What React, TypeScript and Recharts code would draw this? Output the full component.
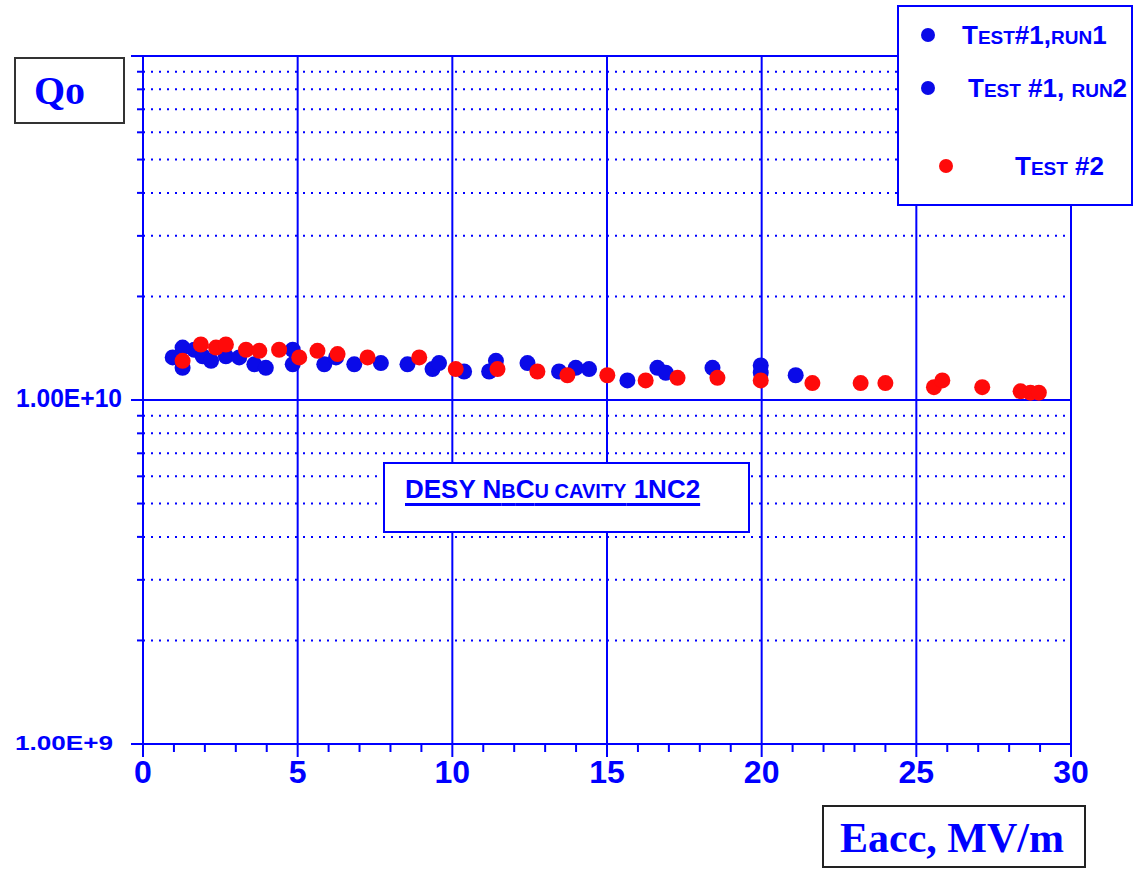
import React from "react";
import { ScatterChart, Scatter, XAxis, YAxis, ReferenceLine, Legend } from "recharts";

// Eacc (MV/m) and Qo values
const run1X = [0.96, 1.28, 1.28, 1.66, 1.93, 2.2, 2.68, 3.11, 3.6, 3.97, 4.84, 4.84, 5.86, 6.24, 6.83, 7.69, 8.55, 9.36, 9.57, 10.38];
const run1Q = [1.33e10, 1.42e10, 1.24e10, 1.4e10, 1.34e10, 1.3e10, 1.34e10, 1.33e10, 1.27e10, 1.24e10, 1.4e10, 1.27e10, 1.27e10, 1.33e10, 1.27e10, 1.28e10, 1.27e10, 1.23e10, 1.28e10, 1.21e10];

const run2X = [11.19, 11.41, 12.43, 13.45, 13.99, 14.42, 15.66, 16.63, 16.9, 18.41, 19.97, 19.97, 21.1];
const run2Q = [1.21e10, 1.3e10, 1.28e10, 1.21e10, 1.24e10, 1.23e10, 1.14e10, 1.24e10, 1.2e10, 1.24e10, 1.26e10, 1.2e10, 1.18e10];

const test2X = [1.28, 1.87, 2.36, 2.68, 3.33, 3.76, 4.4, 5.05, 5.64, 6.29, 7.26, 8.93, 10.11, 11.46, 12.75, 13.72, 15.01, 16.25, 17.28, 18.57, 19.97, 21.64, 23.2, 24.0, 25.57, 25.84, 27.13, 28.37, 28.69, 28.96];
const test2Q = [1.3e10, 1.45e10, 1.42e10, 1.45e10, 1.4e10, 1.39e10, 1.4e10, 1.33e10, 1.39e10, 1.36e10, 1.33e10, 1.33e10, 1.23e10, 1.23e10, 1.21e10, 1.18e10, 1.18e10, 1.14e10, 1.16e10, 1.16e10, 1.14e10, 1.12e10, 1.12e10, 1.12e10, 1.09e10, 1.14e10, 1.09e10, 1.06e10, 1.05e10, 1.05e10];

const xTicks = Array.from({ length: 31 }, (_, i) => i);
const xLabeled = [0, 5, 10, 15, 20, 25, 30];
const xGrid = [5, 10, 15, 20, 25, 30];
const yMajor = [1e9, 1e10, 1e11];
const yMinorFactors = [2, 3, 4, 5, 6, 7, 8, 9];
const yLabels: Record<string, string> = { "1000000000": "1.00E+9", "10000000000": "1.00E+10" };

const BLUE = "#0000ff";
const DOT_BLUE = "#0a0ae8";
const RED = "#ff0a0a";

const zip = (xs: number[], qs: number[]) => xs.map((x, i) => ({ x, q: qs[i] }));
const run1 = zip(run1X, run1Q);
const run2 = zip(run2X, run2Q);
const test2 = zip(test2X, test2Q);

const yMinor: number[] = [];
[1e9, 1e10].forEach((d) => yMinorFactors.forEach((f) => yMinor.push(d * f)));
const yTicks = [...yMajor, ...yMinor].sort((a, b) => a - b);

const dot = (color: string) => (props: any) => (
  <circle cx={props.cx} cy={props.cy} r={8} fill={color} />
);

const XTick = (props: any) => {
  const { x, y, payload } = props;
  const v = payload.value;
  const major = v % 5 === 0;
  return (
    <g>
      <line x1={x} x2={x} y1={y} y2={y + (major ? 13 : 8)} stroke={BLUE} strokeWidth={2} />
      {xLabeled.includes(v) && (
        <text
          x={x}
          y={y + 31}
          textAnchor="middle"
          dominantBaseline="middle"
          fill={BLUE}
          fontFamily="'Liberation Sans', Arial, sans-serif"
          fontWeight="bold"
          fontSize={32}
        >
          {v}
        </text>
      )}
    </g>
  );
};

const YTick = (props: any) => {
  const { x, y, payload } = props;
  const v = payload.value;
  const isMajor = yMajor.includes(v);
  const label = yLabels[String(v)];
  return (
    <g>
      <line x1={x - (isMajor ? 12 : 6)} x2={x} y1={y} y2={y} stroke={BLUE} strokeWidth={2} />
      {label && (
        <text
          x={v === 1e9 ? 113 : 122}
          y={y}
          textAnchor="end"
          dominantBaseline="middle"
          fill={BLUE}
          fontFamily="'Liberation Sans', Arial, sans-serif"
          fontWeight="bold"
          fontSize={v === 1e9 ? 21 : 25}
          textLength={v === 1e9 ? 98 : 106}
          lengthAdjust="spacingAndGlyphs"
        >
          {label}
        </text>
      )}
    </g>
  );
};

const sc = { fontSize: 19 };
const big = { fontSize: 26 };

const LegendBox = () => (
  <svg width={232} height={197} style={{ display: "block" }}>
    <g fontFamily="'Liberation Sans', Arial, sans-serif" fontWeight="bold" fill={BLUE}>
      <circle cx={29} cy={28} r={7} fill={DOT_BLUE} />
      <text x={63} y={37} style={big}>
        T<tspan style={sc}>EST</tspan>#1,<tspan style={sc}>RUN</tspan>1
      </text>
      <circle cx={29} cy={81} r={7} fill={DOT_BLUE} />
      <text x={69} y={90} style={big}>
        T<tspan style={sc}>EST</tspan> #1, <tspan style={sc}>RUN</tspan>2
      </text>
      <circle cx={47} cy={159} r={7} fill={RED} />
      <text x={116} y={168} style={big}>
        T<tspan style={sc}>EST</tspan> #2
      </text>
    </g>
  </svg>
);

export default function App() {
  return (
    <div style={{ position: "absolute", left: 0, top: 0, width: 1136, height: 875, background: "#fff" }}>
      <ScatterChart width={1136} height={875} margin={{ top: 56, right: 65, bottom: 0, left: 0 }}>
        <XAxis
          type="number"
          dataKey="x"
          domain={[0, 30]}
          ticks={xTicks}
          interval={0}
          height={131}
          tickSize={0}
          tickMargin={0}
          tickLine={false}
          axisLine={{ stroke: BLUE, strokeWidth: 2 }}
          tick={<XTick />}
          allowDataOverflow
        />
        <YAxis
          type="number"
          dataKey="q"
          scale="log"
          domain={[1e9, 1e11]}
          ticks={yTicks}
          interval={0}
          width={143}
          tickSize={0}
          tickMargin={0}
          tickLine={false}
          axisLine={{ stroke: BLUE, strokeWidth: 2 }}
          tick={<YTick />}
          allowDataOverflow
        />
        {yMinor.map((v) => (
          <ReferenceLine key={"ym" + v} y={v} stroke={BLUE} strokeWidth={2} strokeDasharray="2 6" />
        ))}
        <ReferenceLine y={1e10} stroke={BLUE} strokeWidth={2} />
        <ReferenceLine y={1e11} stroke={BLUE} strokeWidth={2} />
        {xGrid.map((v) => (
          <ReferenceLine key={"xg" + v} x={v} stroke={BLUE} strokeWidth={2} />
        ))}
        <Legend
          layout="horizontal"
          verticalAlign="middle"
          align="center"
          content={() => <LegendBox />}
          wrapperStyle={{
            position: "absolute",
            left: 897,
            top: 5,
            width: 232,
            height: 197,
            border: "2px solid " + BLUE,
            background: "#fff",
            boxSizing: "content-box",
          }}
        />
        <Scatter name="Test #1, run1" data={run1} fill={DOT_BLUE} shape={dot(DOT_BLUE)} isAnimationActive={false} />
        <Scatter name="Test #1, run2" data={run2} fill={DOT_BLUE} shape={dot(DOT_BLUE)} isAnimationActive={false} />
        <Scatter name="Test #2" data={test2} fill={RED} shape={dot(RED)} isAnimationActive={false} />
      </ScatterChart>

      <div
        style={{
          position: "absolute",
          left: 14,
          top: 57,
          width: 89,
          height: 63,
          border: "2px solid #333",
          background: "#fff",
          fontFamily: "'Liberation Serif', 'Times New Roman', serif",
          fontWeight: "bold",
          fontSize: 40,
          color: BLUE,
          lineHeight: "63px",
          paddingLeft: 18,
        }}
      >
        Qo
      </div>

      <div
        style={{
          position: "absolute",
          left: 822,
          top: 805,
          width: 244,
          height: 59,
          paddingLeft: 16,
          border: "2px solid #222",
          background: "#fff",
          fontFamily: "'Liberation Serif', 'Times New Roman', serif",
          fontWeight: "bold",
          fontSize: 42,
          color: BLUE,
          lineHeight: "62px",
          whiteSpace: "nowrap",
        }}
      >
        Eacc, MV/m
      </div>

      <div
        style={{
          position: "absolute",
          left: 383,
          top: 462,
          width: 343,
          height: 67,
          paddingLeft: 20,
          border: "2px solid " + BLUE,
          background: "#fff",
          fontFamily: "'Liberation Sans', Arial, sans-serif",
          fontWeight: "bold",
          fontSize: 26,
          color: BLUE,
          whiteSpace: "nowrap",
        }}
      >
        <div style={{ marginTop: 10, textDecoration: "underline", textDecorationThickness: 3, textUnderlineOffset: 5 }}>
          DESY N<span style={{ fontSize: 20 }}>B</span>C<span style={{ fontSize: 20 }}>U CAVITY</span> 1NC2
        </div>
      </div>
    </div>
  );
}
